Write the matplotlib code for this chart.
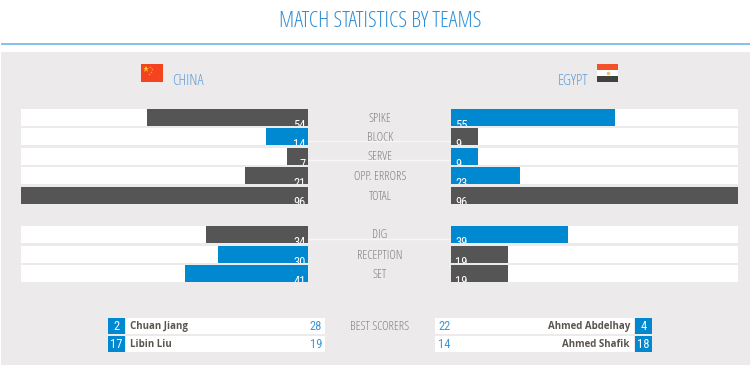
import matplotlib
matplotlib.use("Agg")
import matplotlib.pyplot as plt
from matplotlib.patches import Rectangle

# Values
attack_labels = ["SPIKE", "BLOCK", "SERVE", "OPP. ERRORS", "TOTAL"]
attack_china = [54, 14, 7, 21, 96]
attack_egypt = [55, 9, 9, 23, 96]
defence_labels = ["DIG", "RECEPTION", "SET"]
defence_china = [34, 30, 41]
defence_egypt = [39, 19, 19]
scorers_china = ["Chuan Jiang", "Libin Liu"]
shirts_china = [2, 17]
points_china = [28, 19]
scorers_egypt = ["Ahmed Abdelhay", "Ahmed Shafik"]
shirts_egypt = [4, 18]
points_egypt = [22, 14]

W, H = 750, 365
BLUE = "#0088d0"
DARK = "#555555"
PANEL = "#eceaeb"
GREY = "#7f7d7d"
TEAM = "#5f9dd6"
# light condensed face for the headings and labels
THIN = dict(family="Open Sans", stretch="condensed", weight=300)
NARROW = "Roboto Condensed"

fig = plt.figure(figsize=(W / 100, H / 100), dpi=100, facecolor="white")

# background axes works in pixels, y going down
bg = fig.add_axes([0, 0, 1, 1])
bg.set_xlim(0, W)
bg.set_ylim(H, 0)
bg.axis("off")


def box(ax, x0, y0, x1, y1, color, **kw):
    ax.add_patch(Rectangle((x0, y0), x1 - x0, y1 - y0, facecolor=color, edgecolor="none", **kw))


bg.text(380, 21.5, "MATCH STATISTICS BY TEAMS", color="#2f8fd6", fontsize=16, ha="center", va="center", **THIN)
box(bg, 1, 42.5, W, 44.5, "#86c3e6")
box(bg, 1, 52, W, H, PANEL)

# flags
box(bg, 141, 64, 163, 82, "#f4431f")
bg.plot([146], [69], marker="*", ms=5, color="#f9d423", mew=0)
for fx, fy in [(150, 66.5), (151.5, 69), (151, 72), (149, 74)]:
    bg.plot([fx], [fy], marker="*", ms=1.8, color="#f7a52a", mew=0)
box(bg, 597, 64, 618, 70, "#f4502a")
box(bg, 597, 70, 618, 76, "white")
box(bg, 597, 76, 618, 82, "#414141")
bg.plot([607.5], [73], marker="o", ms=2.6, color="#e9c46a", mew=0)

bg.text(172, 81.5, "CHINA", color=TEAM, fontsize=11, ha="left", va="center", **THIN)
bg.text(558, 81.5, "EGYPT", color=TEAM, fontsize=11, ha="left", va="center", **THIN)

# bar axes share the pixel y scale with the background
left = fig.add_axes([21 / W, 0, (308 - 21) / W, 1])
right = fig.add_axes([451 / W, 0, (738 - 451) / W, 1])
left.set_xlim(96, 0)
right.set_xlim(0, 96)
for ax in (left, right):
    ax.set_ylim(H, 0)
    ax.axis("off")
    ax.patch.set_alpha(0)


def draw_rows(ax, values, others, tops, height, align):
    for v, o, top in zip(values, others, tops):
        ax.barh(top + height / 2, 96, height=height, color="white", zorder=1)
        bar = ax.barh(top + height / 2, v, height=height, color=BLUE if v > o else DARK, zorder=2)[0]
        dx = -2 if align == "right" else 4
        t = ax.annotate(str(v), (0, top + height), xytext=(dx, 7), textcoords="offset pixels",
                        color="white", fontsize=9, family=NARROW, ha=align, va="top", zorder=3)
        # numbers sit low and get cut off by the bottom of the row
        t.set_clip_path(bar)
        t.set_clip_on(True)


attack_tops = [109, 128, 147.5, 167, 186.5]
defence_tops = [225.5, 246, 265]
draw_rows(left, attack_china, attack_egypt, attack_tops, 17, "right")
draw_rows(right, attack_egypt, attack_china, attack_tops, 17, "left")
draw_rows(left, defence_china, defence_egypt, defence_tops, 17, "right")
draw_rows(right, defence_egypt, defence_china, defence_tops, 17, "left")

for lab, top in zip(attack_labels + defence_labels, attack_tops + defence_tops):
    bg.text(380, top + 9.5, lab, color=GREY, fontsize=9, ha="center", va="center", **THIN)

# thin white lines crossing the middle column
for y in [141, 160, 238.5]:
    bg.plot([308, 451], [y, y], color="#f7f6f6", lw=1, zorder=3)

# best scorers
bg.text(380, 326.5, "BEST SCORERS", color=GREY, fontsize=9, ha="center", va="center", **THIN)
score_tops = [317.5, 336]
for i, top in enumerate(score_tops):
    bot = top + 16
    mid = top + 8.6
    box(bg, 126, top, 325, bot, "white")
    box(bg, 108, top, 125, bot, BLUE)
    bg.text(116.5, mid, str(shirts_china[i]), color="white", fontsize=9, family=NARROW, ha="center", va="center")
    bg.text(130.5, mid, scorers_china[i], color="#5a5550", fontsize=7, family="Open Sans", weight="bold",
            ha="left", va="center")
    bg.text(322, mid, str(points_china[i]), color="#3f97d8", fontsize=9, family=NARROW, ha="right", va="center")

    box(bg, 435, top, 634, bot, "white")
    box(bg, 635, top, 652, bot, BLUE)
    bg.text(643.5, mid, str(shirts_egypt[i]), color="white", fontsize=9, family=NARROW, ha="center", va="center")
    bg.text(630, mid, scorers_egypt[i], color="#5a5550", fontsize=7, family="Open Sans", weight="bold",
            ha="right", va="center")
    bg.text(438, mid, str(points_egypt[i]), color="#3f97d8", fontsize=9, family=NARROW, ha="left", va="center")

fig.savefig("out.png", dpi=100, facecolor="white")
